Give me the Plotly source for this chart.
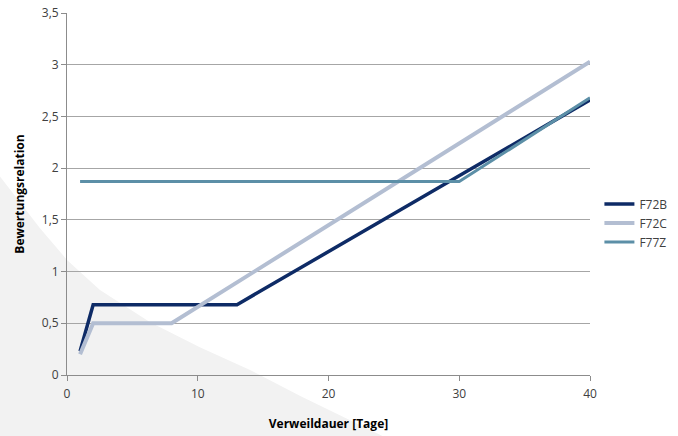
import plotly.graph_objects as go

f72b_x = [1, 2, 13, 40]
f72b_y = [0.23, 0.68, 0.68, 2.66]
f72c_x = [1, 2, 8, 40]
f72c_y = [0.20, 0.50, 0.50, 3.03]
f77z_x = [1, 30, 40]
f77z_y = [1.87, 1.87, 2.68]

fig = go.Figure()
fig.add_trace(go.Scatter(x=f72b_x, y=f72b_y, mode="lines", name="F72B",
                         line=dict(color="#0e2b66", width=3.5)))
fig.add_trace(go.Scatter(x=f72c_x, y=f72c_y, mode="lines", name="F72C",
                         line=dict(color="#b3bed2", width=4)))
fig.add_trace(go.Scatter(x=f77z_x, y=f77z_y, mode="lines", name="F77Z",
                         line=dict(color="#5c8fa7", width=3)))

# decorative background swoosh (paper coords relative to plot area)
fig.add_shape(type="path", xref="paper", yref="paper", layer="below",
              path=("M -0.13 0.552 L -0.052 0.406 L 0 0.318 L 0.063 0.235 "
                    "L 0.159 0.146 L 0.254 0.077 L 0.350 0.014 L 0.446 -0.058 "
                    "L 0.604 -0.169 L -0.13 -0.169 Z"),
              fillcolor="#f2f2f2", line=dict(width=0))

axis_common = dict(showline=True, linecolor="#8c8c8c", linewidth=1,
                   ticks="outside", ticklen=5, tickcolor="#8c8c8c",
                   tickfont=dict(size=12, color="#404040"), zeroline=False,
                   automargin=False)

fig.update_layout(
    width=678, height=436,
    margin=dict(l=67, r=88, t=13, b=61, autoexpand=False),
    paper_bgcolor="white", plot_bgcolor="rgba(0,0,0,0)",
    font=dict(family="Open Sans", color="#404040"),
    separators=",.",
    xaxis=dict(range=[0, 40], tickvals=[0, 10, 20, 30, 40], showgrid=False,
               ticklabelstandoff=3,
               title=dict(text="<b>Verweildauer [Tage]</b>", font=dict(size=12, color="#000"), standoff=18),
               **axis_common),
    yaxis=dict(range=[0, 3.5], dtick=0.5, showgrid=True, gridcolor="#a6a6a6", gridwidth=1,
               title=dict(text="<b>Bewertungsrelation</b>", font=dict(size=12, color="#000"), standoff=14),
               **axis_common),
    legend=dict(x=1.018, y=0.42, yanchor="middle", xanchor="left",
                font=dict(size=12, color="#404040"), bgcolor="rgba(0,0,0,0)",
                itemwidth=30),
    showlegend=True,
)

fig.write_html("out.html", config={"displayModeBar": False},
               post_script="document.body.style.margin='0';")
